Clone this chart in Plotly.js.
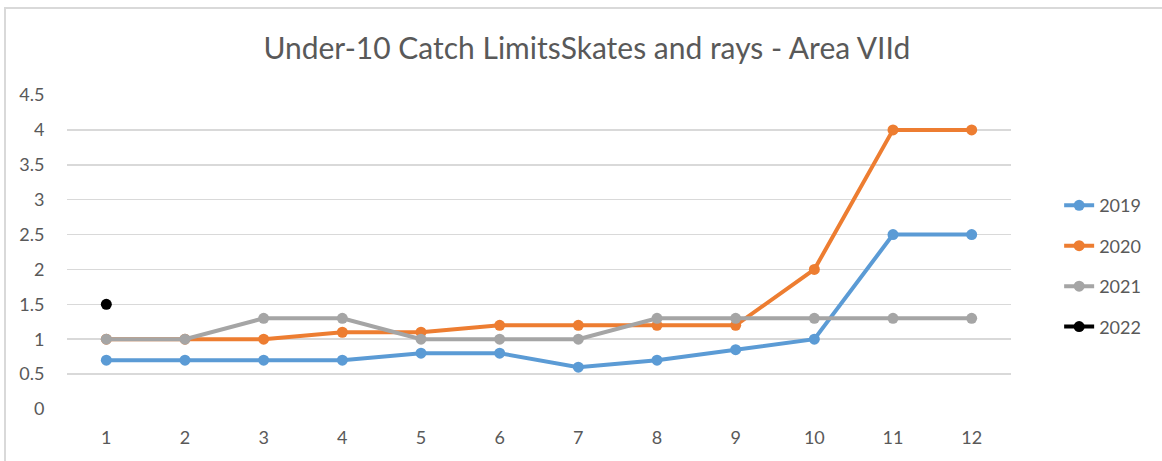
<!DOCTYPE html>
<html>
<head>
<meta charset="utf-8">
<script src="https://cdn.plot.ly/plotly-3.0.1.min.js"></script>
<style>
  html, body { margin: 0; padding: 0; background: #ffffff; }
  #frame { position: absolute; left: 4px; top: 7px; width: 1170px; height: 470px;
           border-top: 2px solid #d9d9d9; border-left: 2px solid #d9d9d9; }
  #chart { position: absolute; left: 0; top: 0; width: 1162px; height: 461px; }
</style>
</head>
<body>
<div id="frame"></div>
<div id="chart"></div>
<script>
const categories = [1, 2, 3, 4, 5, 6, 7, 8, 9, 10, 11, 12];
const tickLabels = ["1", "2", "3", "4", "5", "6", "7", "8", "9", "10", "11", "12"];
const seriesNames = ["2019", "2020", "2021", "2022"];
const values2019 = [0.7, 0.7, 0.7, 0.7, 0.8, 0.8, 0.6, 0.7, 0.85, 1, 2.5, 2.5];
const values2020 = [1, 1, 1, 1.1, 1.1, 1.2, 1.2, 1.2, 1.2, 2, 4, 4];
const values2021 = [1, 1, 1.3, 1.3, 1, 1, 1, 1.3, 1.3, 1.3, 1.3, 1.3];
const values2022 = [1.5, null, null, null, null, null, null, null, null, null, null, null];
const yTicks = [0, 0.5, 1, 1.5, 2, 2.5, 3, 3.5, 4, 4.5];
const yTickLabels = ["0", "0.5", "1", "1.5", "2", "2.5", "3", "3.5", "4", "4.5"];

const colors = ["#5B9BD5", "#ED7D31", "#A5A5A5", "#000000"];
const allValues = [values2019, values2020, values2021, values2022];

const traces = allValues.map((vals, i) => ({
  x: categories,
  y: vals,
  name: seriesNames[i],
  legendgroup: seriesNames[i],
  type: "scatter",
  mode: "lines+markers",
  line: { color: colors[i], width: 4 },
  marker: { color: colors[i], size: 11 },
  connectgaps: false
}));

const font = "Lato, 'Open Sans', sans-serif";

const layout = {
  width: 1162,
  height: 461,
  margin: { l: 67, r: 151, t: 95, b: 52 },
  paper_bgcolor: "rgba(0,0,0,0)",
  plot_bgcolor: "rgba(0,0,0,0)",
  title: {
    text: "Under-10 Catch LimitsSkates and rays - Area VIId",
    font: { family: font, size: 30, color: "#595959" },
    x: 0.505, xanchor: "center",
    y: 0.895, yanchor: "middle", yref: "container"
  },
  xaxis: {
    range: [0.5, 12.5],
    tickmode: "array",
    tickvals: categories,
    ticktext: tickLabels,
    showgrid: false,
    zeroline: false,
    showline: false,
    ticks: "outside",
    ticklen: 12,
    tickcolor: "rgba(0,0,0,0)",
    tickfont: { family: font, size: 18, color: "#595959" },
    fixedrange: true
  },
  yaxis: {
    range: [0, 4.5],
    tickmode: "array",
    tickvals: yTicks,
    ticktext: yTickLabels,
    showgrid: true,
    gridcolor: "#d9d9d9",
    gridwidth: 1.5,
    zeroline: false,
    showline: false,
    ticks: "outside",
    ticklen: 18,
    tickcolor: "rgba(0,0,0,0)",
    tickfont: { family: font, size: 18, color: "#595959" },
    fixedrange: true
  },
  showlegend: true,
  legend: {
    x: 1.051, xanchor: "left",
    y: 0.455, yanchor: "middle",
    font: { family: font, size: 18, color: "#595959" },
    tracegroupgap: 14,
    bgcolor: "rgba(0,0,0,0)"
  }
};

Plotly.newPlot("chart", traces, layout, { displayModeBar: false, staticPlot: true });
</script>
</body>
</html>
